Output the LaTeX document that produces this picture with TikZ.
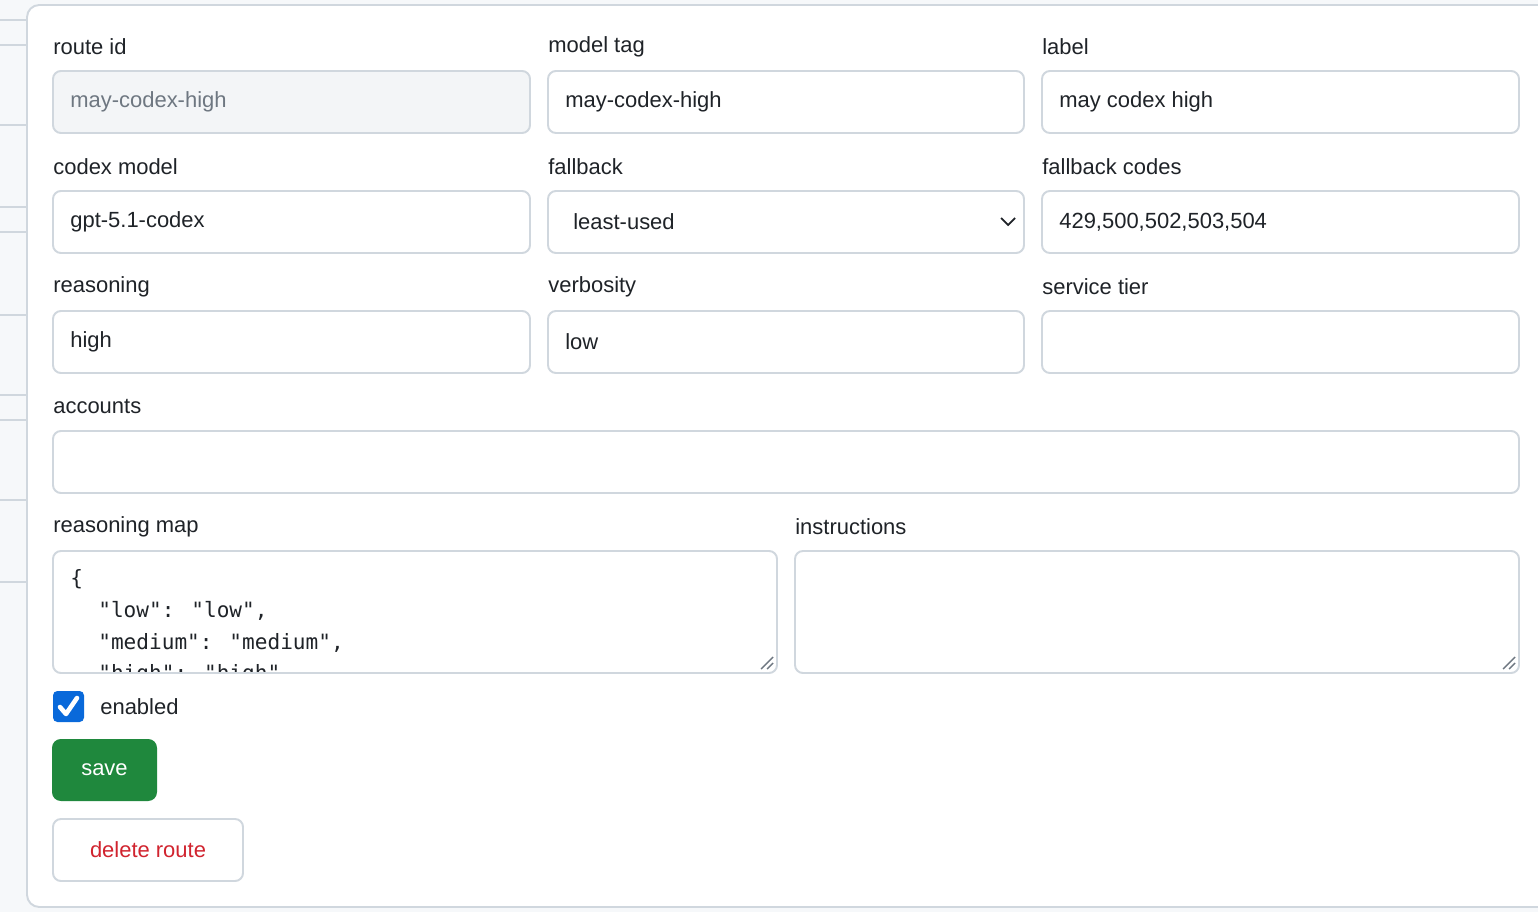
\documentclass[tikz,border=0pt]{standalone}
\usepackage{fontspec}
\setmainfont{Liberation Sans}
\newfontfamily\codefont{DejaVu Sans Mono}
\usetikzlibrary{positioning}
\definecolor{pagebg}{HTML}{F6F8FA}
\definecolor{edge}{HTML}{D0D7DE}
\definecolor{fieldoff}{HTML}{F3F5F7}
\definecolor{ink}{HTML}{1F2328}
\definecolor{muted}{HTML}{6E7781}
\definecolor{okgreen}{HTML}{1F883D}
\definecolor{tickblue}{HTML}{0969DA}
\definecolor{dangerred}{HTML}{D1242F}
\tikzset{
  lbl/.style={anchor=west,inner sep=0pt,text=ink,font=\fontsize{12.5}{14}\selectfont},
  val/.style={anchor=west,inner sep=0pt,text=ink,font=\fontsize{12.5}{14}\selectfont},
  field/.style={draw=edge,line width=1.1pt,fill=white,rounded corners=4.5pt},
  code/.style={anchor=west,inner sep=0pt,text=ink,font=\codefont\fontsize{12}{14}\selectfont},
}
\begin{document}
\begin{tikzpicture}[x=0.02cm,y=-0.02cm]
  \useasboundingbox (0,0) rectangle (1538,912);
  % page behind the card
  \fill[pagebg] (0,0) rectangle (1538,912);
  \foreach \yy in {20,45,125,207,232,315,395,420,500,582} {
    \draw[edge,line width=0.8pt] (0,\yy) -- (27,\yy);
  }
  \draw[field,rounded corners=7pt] (27,5) rectangle (1560,907);

  % first three rows of inputs
  \node[lbl] (lroute) at (53,47) {route id};
  \node[lbl] (lmodel) at (548,47) {model tag};
  \node[lbl] (llabel) at (1042,47) {label};
  \draw[field,fill=fieldoff] (53,71) rectangle (530,133);
  \draw[field] (548,71) rectangle (1024,133);
  \draw[field] (1042,71) rectangle (1519,133);
  \node[val,text=muted] (vroute) at (70,102) {may-codex-high};
  \node[val] (vmodel) at (565,102) {may-codex-high};
  \node[val] (vlabel) at (1059,102) {may codex high};

  \node[lbl] (lcodex) at (53,167) {codex model};
  \node[lbl] (lfall) at (548,167) {fallback};
  \node[lbl] (lcodes) at (1042,167) {fallback codes};
  \draw[field] (53,191) rectangle (530,253);
  \draw[field] (548,191) rectangle (1024,253);
  \draw[field] (1042,191) rectangle (1519,253);
  \node[val] (vcodex) at (70,222) {gpt-5.1-codex};
  \node[val] (vfall) at (573,222) {least-used};
  \node[val] (vcodes) at (1059,222) {429,500,502,503,504};
  \draw[ink,line width=1pt] (1001,218) -- (1008,225) -- (1015,218);

  \node[lbl] (lreason) at (53,287) {reasoning};
  \node[lbl] (lverb) at (548,287) {verbosity};
  \node[lbl] (ltier) at (1042,287) {service tier};
  \draw[field] (53,311) rectangle (530,373);
  \draw[field] (548,311) rectangle (1024,373);
  \draw[field] (1042,311) rectangle (1519,373);
  \node[val] (vreason) at (70,342) {high};
  \node[val] (vverb) at (565,342) {low};

  % accounts
  \node[lbl] (lacc) at (53,407) {accounts};
  \draw[field] (53,431) rectangle (1519,493);

  % text areas
  \node[lbl] (lmap) at (53,527) {reasoning map};
  \node[lbl] (linstr) at (795,527) {instructions};
  \draw[field] (53,551) rectangle (777,673);
  \draw[field] (795,551) rectangle (1519,673);
  \begin{scope}
    \clip (55,553) rectangle (775,671);
    \node[code] (m1) at (70,579) {\{};
    \node[code] (m2) at (98,611) {"low": "low",};
    \node[code] (m3) at (98,643) {"medium": "medium",};
    \node[code] (m4) at (98,675) {"high": "high"};
  \end{scope}
  \foreach \xx in {775,1517} {
    \draw[muted,line width=0.8pt] (\xx-14,669) -- (\xx-2,657);
    \draw[muted,line width=0.8pt] (\xx-8,669) -- (\xx-2,663);
  }

  % checkbox
  \fill[tickblue,rounded corners=2.5pt] (53,691) rectangle (84,722);
  \draw[white,line width=2.6pt,line cap=round,line join=round] (60,707) -- (66,714) -- (77,698);
  \node[val] (venab) at (100,707) {enabled};

  % buttons
  \fill[okgreen,rounded corners=5pt] (52,739) rectangle (157,801);
  \node[val,text=white,anchor=center] (bsave) at (104.5,770) {save};
  \draw[field] (53,819) rectangle (243,881);
  \node[val,text=dangerred,anchor=center] (bdel) at (148,850) {delete route};
\end{tikzpicture}
\end{document}
